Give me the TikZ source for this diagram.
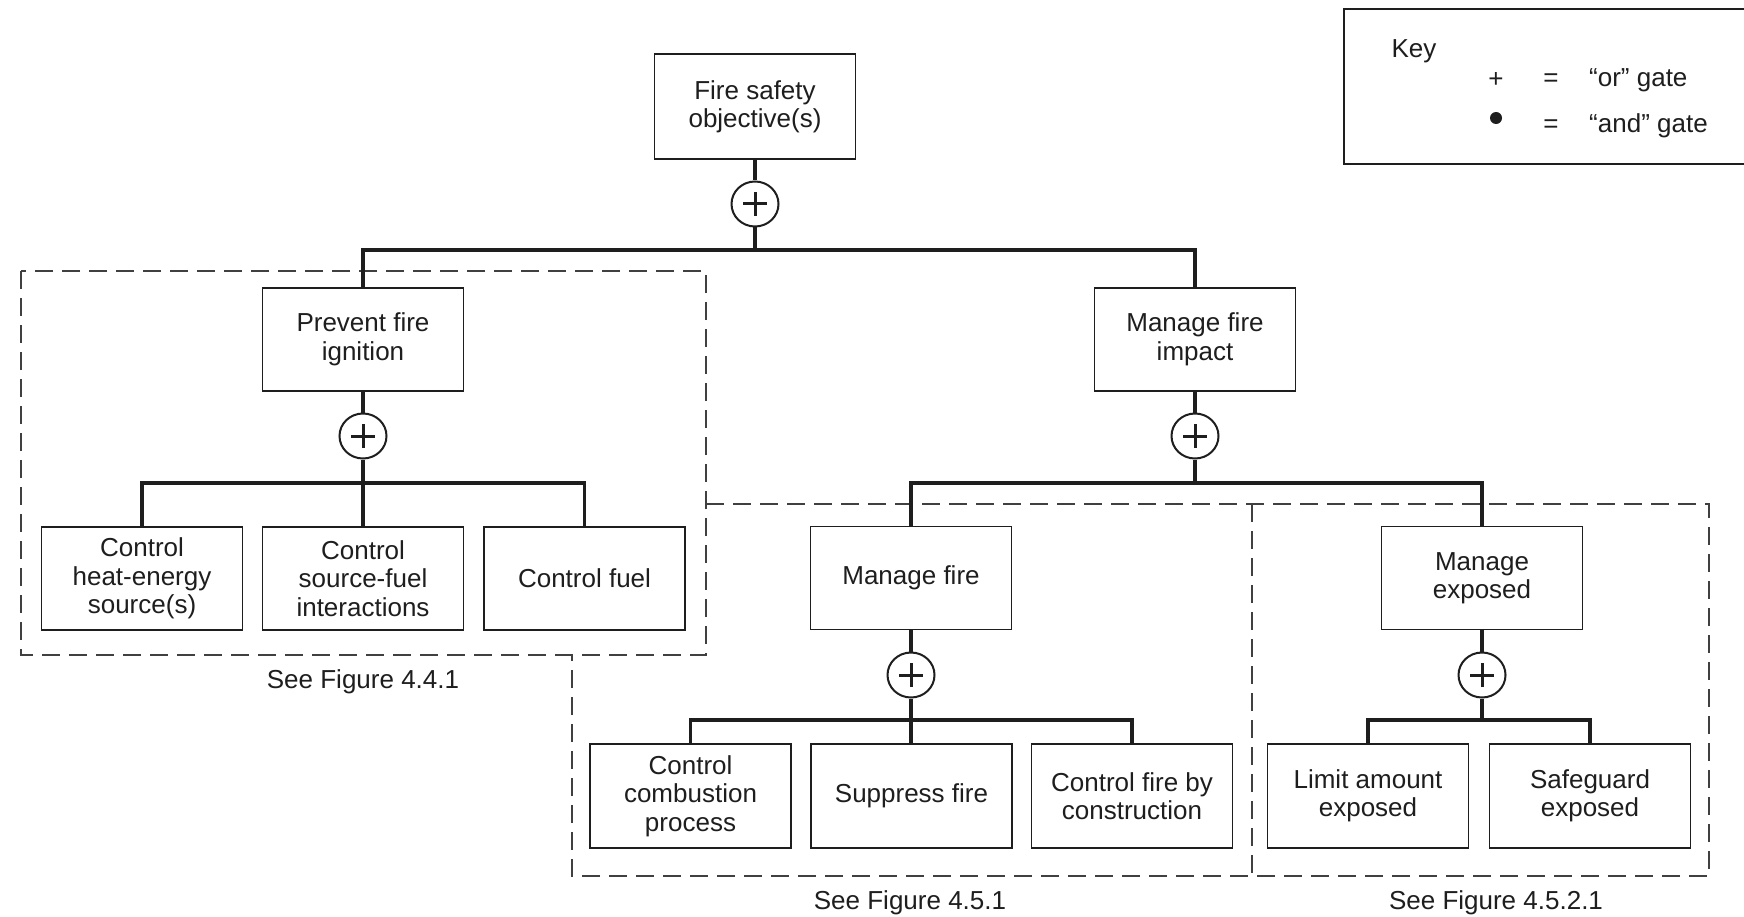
\documentclass[tikz,border=0pt]{standalone}
\usepackage{fontspec}
\setmainfont{Liberation Sans}
\usetikzlibrary{shapes.geometric}
\definecolor{ink}{HTML}{1E1E1E}
\tikzset{
  box/.style={draw=ink, line width=1.8pt, rectangle, minimum width=201pt, minimum height=103pt,
    align=center, inner sep=2pt, text=ink, font=\fontsize{26}{28.5}\selectfont},
  gate/.style={draw=ink, line width=2pt, ellipse, minimum width=47pt, minimum height=45pt, inner sep=0pt},
  conn/.style={draw=ink, line width=3.5pt, line join=miter},
  region/.style={draw=ink!85, line width=1.6pt, dash pattern=on 18pt off 9pt},
  lbl/.style={text=ink, font=\fontsize{26}{28.5}\selectfont, inner sep=0pt},
}
\newcommand{\orplus}[1]{%
  \draw[ink, line width=3pt] ([xshift=-12pt]#1.center) -- ([xshift=12pt]#1.center);
  \draw[ink, line width=3pt] ([yshift=-12pt]#1.center) -- ([yshift=12pt]#1.center);}
\begin{document}
\begin{tikzpicture}[x=1pt,y=-1pt]
\useasboundingbox (0,0) rectangle (1744,917);
\fill[white] (0,0) rectangle (1744,917);

% dashed regions
\draw[region] (21,271) rectangle (706,655);
\draw[region] (706,504) -- (1709,504) -- (1709,876) -- (572,876) -- (572,655);
\draw[region] (1252,504) -- (1252,876);

% boxes
\node[box, minimum height=105pt] (fso) at (755,106.5) {\raisebox{-3pt}{\shortstack{Fire safety\\[1pt]objective(s)}}};
\node[box] (pfi) at (363,339.5) {Prevent fire\\ignition};
\node[box] (mfi) at (1195,339.5) {Manage fire\\impact};
\node[box] (c1) at (142,578.5) {Control\\heat-energy\\source(s)};
\node[box] (c2) at (363,578.5) {Control\\source-fuel\\interactions};
\node[box] (c3) at (584.5,578.5) {Control fuel};
\node[box] (mf) at (911,578) {Manage fire};
\node[box] (me) at (1482,578) {Manage\\exposed};
\node[box, minimum height=104pt] (b1) at (690.5,796) {Control\\combustion\\process};
\node[box, minimum height=104pt] (b2) at (911.5,796) {Suppress fire};
\node[box, minimum height=104pt] (b3) at (1132,796) {Control fire by\\construction};
\node[box, minimum height=104pt] (b4) at (1368,796) {Limit amount\\exposed};
\node[box, minimum height=104pt] (b5) at (1590,796) {Safeguard\\exposed};

% gates
\node[gate] (g0) at (755,204) {};
\node[gate] (g1) at (363,436) {};
\node[gate] (g2) at (1195,436) {};
\node[gate] (g3) at (911,675) {};
\node[gate] (g4) at (1482,675) {};
\orplus{g0}\orplus{g1}\orplus{g2}\orplus{g3}\orplus{g4}

% junctions
\coordinate (j0) at (755,250);
\coordinate (j1) at (363,483);
\coordinate (j2) at (1195,483);
\coordinate (j3) at (911,720);
\coordinate (j4) at (1482,720);

% connectors
\draw[conn] (fso.south) -- (g0.north);
\draw[conn] (g0.south) -- (j0);
\draw[conn] (pfi.north) |- (j0) -| (mfi.north);

\draw[conn] (pfi.south) -- (g1.north);
\draw[conn] (g1.south) -- (j1);
\draw[conn] (c1.north) |- (j1) -| (c3.north);
\draw[conn] (j1) -- (j1 |- c2.north);

\draw[conn] (mfi.south) -- (g2.north);
\draw[conn] (g2.south) -- (j2);
\draw[conn] (mf.north) |- (j2) -| (me.north);

\draw[conn] (mf.south) -- (g3.north);
\draw[conn] (g3.south) -- (j3);
\draw[conn] (b1.north) |- (j3) -| (b3.north);
\draw[conn] (j3) -- (j3 |- b2.north);

\draw[conn] (me.south) -- (g4.north);
\draw[conn] (g4.south) -- (j4);
\draw[conn] (b4.north) |- (j4) -| (b5.north);

% figure references
\node[lbl] (r1) at (363,682) {See Figure 4.4.1};
\node[lbl] (r2) at (910,903) {See Figure 4.5.1};
\node[lbl] (r3) at (1496,903) {See Figure 4.5.2.1};

% key
\draw[ink, line width=1.8pt] (1344,9) rectangle (1760,164);
\node[lbl] (key) at (1414,51) {Key};
\node[lbl] (kplus) at (1496,80) {+};
\node[lbl] (keq1) at (1551,80) {=};
\node[lbl, anchor=west] (kor) at (1589,80) {“or” gate};
\fill[ink] (1496,118) circle (6pt);
\coordinate (kdot) at (1496,118);
\node[lbl] (keq2) at (1551,126) {=};
\node[lbl, anchor=west] (kand) at (1589,126) {“and” gate};
\end{tikzpicture}
\end{document}
